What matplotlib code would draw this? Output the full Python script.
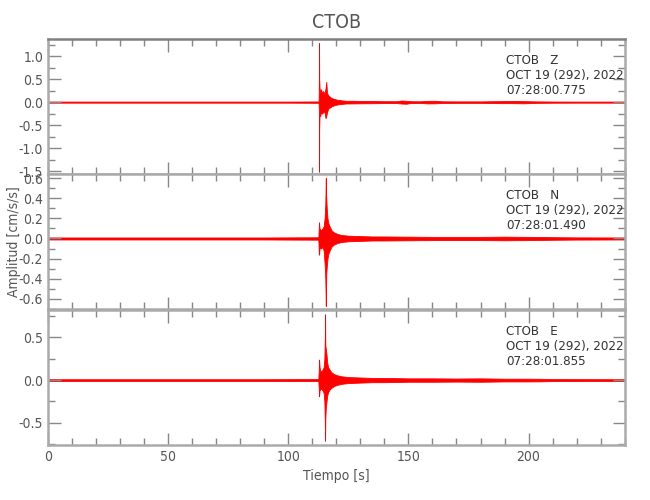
import numpy as np
import matplotlib
matplotlib.use("Agg")
import matplotlib.pyplot as plt
from matplotlib.ticker import MultipleLocator

plt.rcParams['font.family'] = ['DejaVu Sans']
plt.rcParams['font.stretch'] = 'condensed'
plt.rcParams['axes.unicode_minus'] = False

# envelope of each trace (time in s, upper / lower amplitude in cm/s/s)
t_z = [0, 20, 40, 60, 80, 100, 112.6, 112.75, 112.8, 112.85, 113.0, 113.3, 113.6, 114.0,
       114.5, 115.0, 115.5, 115.8, 116.1, 116.6, 117.2, 118.0, 119.0, 120.5, 122, 124,
       127, 131, 135, 140, 145, 147, 149, 151, 155, 158, 161, 164, 170, 180, 188, 193,
       198, 203, 210, 220, 240]
up_z = [0.012, 0.012, 0.012, 0.012, 0.012, 0.012, 0.015, 0.6, 1.28, 0.5, 0.3, 0.22, 0.28, 0.2,
        0.24, 0.18, 0.3, 0.44, 0.2, 0.15, 0.12, 0.09, 0.07, 0.05, 0.04, 0.03,
        0.03, 0.025, 0.025, 0.02, 0.02, 0.035, 0.03, 0.02, 0.018, 0.028, 0.03, 0.018, 0.016, 0.016, 0.022, 0.026,
        0.022, 0.016, 0.013, 0.012, 0.012]
lo_z = [-0.012, -0.012, -0.012, -0.012, -0.012, -0.012, -0.015, -0.3, -1.51, -0.6, -0.25, -0.3, -0.2, -0.25,
        -0.22, -0.2, -0.35, -0.3, -0.22, -0.14, -0.12, -0.09, -0.07, -0.05, -0.04, -0.03,
        -0.028, -0.025, -0.024, -0.02, -0.02, -0.03, -0.035, -0.02, -0.018, -0.028, -0.026, -0.018, -0.016, -0.016, -0.022, -0.022,
        -0.026, -0.016, -0.013, -0.012, -0.012]

t_n = [0, 30, 60, 90, 112.5, 112.7, 112.8, 113.0, 113.3, 113.7, 114.2, 114.7, 115.1, 115.4,
       115.6, 115.7, 115.8, 116.0, 116.3, 116.7, 117.2, 118, 119, 120.5, 122, 125, 130,
       135, 140, 150, 160, 170, 180, 190, 200, 210, 220, 240]
up_n = [0.01, 0.01, 0.01, 0.01, 0.012, 0.12, 0.16, 0.1, 0.09, 0.08, 0.1, 0.12, 0.2, 0.35,
        0.60, 0.45, 0.4, 0.3, 0.2, 0.15, 0.12, 0.08, 0.06, 0.045, 0.035, 0.028, 0.024,
        0.02, 0.02, 0.018, 0.016, 0.016, 0.016, 0.018, 0.016, 0.013, 0.011, 0.01]
lo_n = [-0.01, -0.01, -0.01, -0.01, -0.012, -0.16, -0.16, -0.1, -0.09, -0.1, -0.08, -0.12, -0.25, -0.4,
        -0.67, -0.5, -0.35, -0.28, -0.2, -0.15, -0.12, -0.08, -0.06, -0.045, -0.035, -0.028, -0.024,
        -0.02, -0.02, -0.018, -0.016, -0.016, -0.016, -0.018, -0.016, -0.013, -0.011, -0.01]

t_e = [0, 30, 60, 90, 112.5, 112.7, 112.8, 113.0, 113.3, 113.7, 114.2, 114.7, 115.0, 115.2,
       115.3, 115.4, 115.6, 115.9, 116.2, 116.6, 117.2, 118, 119, 120.5, 122, 125, 130,
       135, 140, 150, 160, 170, 180, 190, 200, 205, 210, 220, 240]
up_e = [0.01, 0.01, 0.01, 0.01, 0.012, 0.15, 0.24, 0.15, 0.11, 0.1, 0.12, 0.15, 0.25, 0.5,
        0.77, 0.4, 0.37, 0.3, 0.2, 0.15, 0.12, 0.09, 0.07, 0.055, 0.045, 0.035, 0.03,
        0.025, 0.025, 0.02, 0.02, 0.018, 0.02, 0.016, 0.016, 0.015, 0.012, 0.011, 0.01]
lo_e = [-0.01, -0.01, -0.01, -0.01, -0.012, -0.12, -0.19, -0.12, -0.11, -0.1, -0.12, -0.15, -0.25, -0.5,
        -0.71, -0.45, -0.33, -0.25, -0.18, -0.14, -0.11, -0.09, -0.07, -0.055, -0.045, -0.035, -0.03,
        -0.025, -0.025, -0.02, -0.02, -0.018, -0.02, -0.016, -0.016, -0.015, -0.012, -0.011, -0.01]

components = ["Z", "N", "E"]
start_times = ["07:28:00.775", "07:28:01.490", "07:28:01.855"]
ylims = [(-1.56, 1.37), (-0.70, 0.64), (-0.76, 0.82)]
y_major = [0.5, 0.2, 0.5]
y_minor = [0.25, 0.1, 0.25]

traces = [(t_z, up_z, lo_z), (t_n, up_n, lo_n), (t_e, up_e, lo_e)]

grey = '#555555'
spine = '#aaaaaa'

fig = plt.figure(figsize=(6.5, 5), dpi=100)
left, width = 0.074, 0.887
bottoms = [0.652, 0.382, 0.110]
height = 0.270

for i in range(3):
    ax = fig.add_axes([left, bottoms[i], width, height])
    t, up, lo = traces[i]
    ax.fill_between(t, lo, up, color='red', edgecolor='red', lw=0.6)
    ax.set_xlim(0, 240)
    ax.set_ylim(*ylims[i])
    ax.xaxis.set_major_locator(MultipleLocator(50))
    ax.xaxis.set_minor_locator(MultipleLocator(10))
    ax.yaxis.set_major_locator(MultipleLocator(y_major[i]))
    ax.yaxis.set_minor_locator(MultipleLocator(y_minor[i]))
    ax.tick_params(which='both', direction='in', top=True, right=True,
                   color='#888888', labelcolor=grey, labelsize=10, width=1)
    ax.tick_params(which='major', length=9)
    ax.tick_params(which='minor', length=5)
    for s in ax.spines.values():
        s.set_color(spine)
        s.set_linewidth(1.8)
    if i == 0:
        ax.spines['top'].set_color('#808080')
        ax.set_title("CTOB", color=grey, fontsize=14, pad=8)
    if i < 2:
        ax.tick_params(labelbottom=False)
    else:
        ax.set_xlabel("Tiempo [s]", color=grey, fontsize=10, labelpad=4)
    ax.text(0.794, 0.89, "CTOB   " + components[i] + "\nOCT 19 (292), 2022\n" + start_times[i],
            transform=ax.transAxes, ha='left', va='top', color='#333333', fontsize=9.5,
            linespacing=1.22)

fig.text(0.022, 0.516, "Amplitud [cm/s/s]", rotation=90, ha='center', va='center',
         color=grey, fontsize=10)

plt.savefig("out.png", dpi=100)
